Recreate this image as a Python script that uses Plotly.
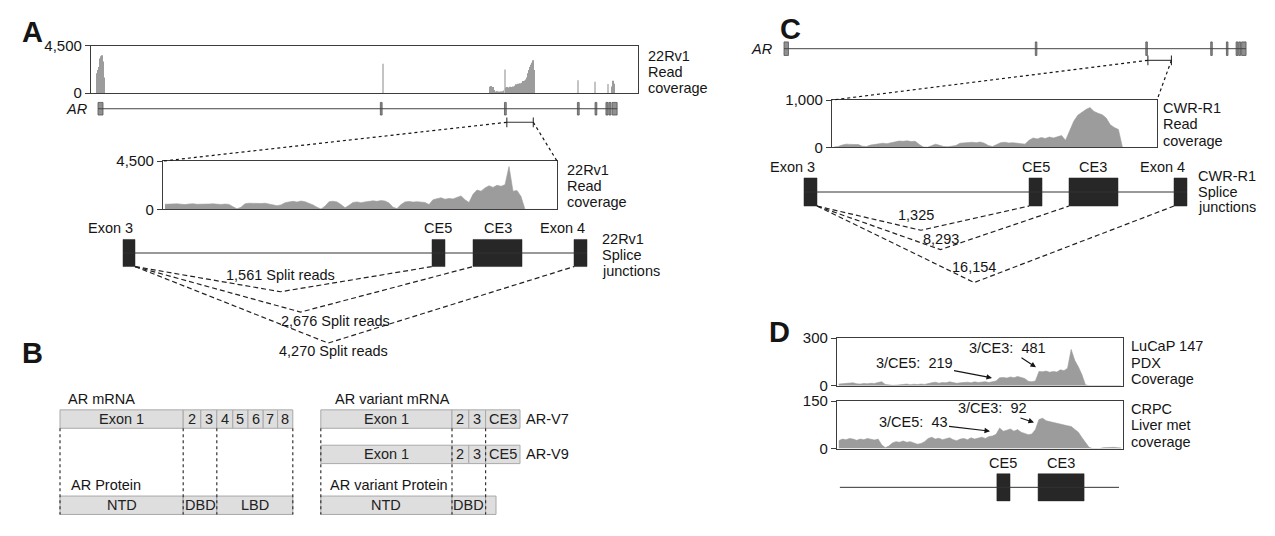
import numpy as np
import plotly.graph_objects as go

W, H = 1275, 536
FONT = "Liberation Sans, Arial, sans-serif"
TXT = "#151515"
COV = "#9c9c9c"
COV_THIN = "#c4c4c4"
BOX = "#3c3c3c"
EXON_DARK = "#272727"
EXON_GRAY = "#909090"
EXON_EDGE = "#555555"
BFILL = "#dedede"
BEDGE = "#a9a9a9"
FS = 14.5

# ====================== DATA ======================
# AR gene structure (kb from TSS)
AR_EXON_START = [0.0, 96.0, 138.2, 163.0, 169.0, 172.7, 173.7, 174.8]
AR_EXON_END = [1.7, 96.6, 138.8, 163.6, 169.6, 173.4, 174.4, 176.5]
ZOOM_REGION_KB = [139.0, 148.0]

# Panel A: 22Rv1 read coverage along AR (non-empty 0.34 kb bins)
A_GENE_COV_POS = [-0.34, 0.0, 0.34, 0.68, 1.02, 1.36, 1.70, 2.04, 96.9]
A_GENE_COV_VAL = [1900, 2200, 2500, 3300, 3500, 3600, 3000, 1500, 2800]
A_GENE_COV_BIN = 0.34
A_GENE_COV_INTRON3_START = 133.28
A_GENE_COV_INTRON3_VAL = [620, 680, 450, 600, 300, 150, 120, 180, 100, 150,
                          120, 160, 130, 180, 250, 2260, 520, 600, 480, 550,
                          620, 500, 580, 650, 520, 700, 850, 780, 900, 820,
                          950, 880, 1000, 1150, 1080, 1200, 1300, 1500, 1900, 2200,
                          2500, 2700, 2900, 3120, 2200]
A_GENE_COV_3END_POS = [163.2, 169.0, 173.4, 174.76, 175.1, 175.44]
A_GENE_COV_3END_VAL = [1240, 1090, 870, 650, 1180, 900]

# Panel A zoom: 22Rv1 coverage, intron 3 region (0.1 kb bins from region start)
A_ZOOM_BIN = 0.1
A_ZOOM_COV = [480, 500, 470, 520, 490, 450, 500, 530, 480, 510,
              470, 500, 520, 480, 460, 500, 470, 250, 60, 200,
              520, 580, 560, 600, 550, 580, 500, 380, 350, 420,
              620, 700, 750, 680, 780, 720, 600, 420, 200, 40,
              300, 720, 760, 700, 450, 150, 380, 650, 700, 620,
              700, 760, 800, 750, 820, 780, 600, 200, 80, 450,
              700, 740, 680, 720, 700, 650, 450, 900, 1000, 1080,
              950, 1020, 980, 1150, 1260, 900, 650, 1400, 1800, 1700,
              2000, 2200, 2050, 2250, 2150, 2300, 3990, 1700, 1750, 1200,
              0, 0, 0, 0, 0, 0, 0, 0, 0]
A_SPLICE_EXONS = ["Exon 3", "CE5", "CE3", "Exon 4"]
A_SPLICE_START = [-1.0, 6.725, 7.75, 10.275]
A_SPLICE_END = [-0.7, 7.05, 8.975, 10.6]
A_SPLIT_READS = [1561, 2676, 4270]          # Exon3 -> CE5, CE3, Exon4

# Panel C: CWR-R1 (0.125 kb bins)
C_ZOOM_BIN = 0.125
C_ZOOM_COV = [10, 20, 50, 70, 65, 70, 60, 25, 20, 50,
              60, 85, 90, 80, 95, 120, 135, 130, 140, 125,
              130, 60, 10, 5, 40, 70, 45, 20, 15, 20,
              40, 90, 100, 95, 110, 100, 115, 90, 40, 20,
              60, 100, 110, 95, 100, 90, 80, 70, 150, 200,
              180, 210, 190, 220, 200, 230, 250, 150, 350, 550,
              680, 750, 800, 840, 760, 720, 690, 620, 480, 420,
              380, 0, 0, 0, 0, 0, 0, 0, 0, 0]
C_SPLICE_EXONS = ["Exon 3", "CE5", "CE3", "Exon 4"]
C_SPLICE_START = [-0.862, 6.062, 7.292, 10.523]
C_SPLICE_END = [-0.462, 6.462, 8.8, 10.923]
C_SPLIT_READS = [1325, 8293, 16154]

# Panel D: LuCaP 147 PDX and CRPC liver met coverage (0.125 kb bins)
D_BIN = 0.125
D_PDX_COV = [10, 12, 10, 14, 18, 12, 10, 14, 12, 15,
             14, 20, 25, 8, 3, 2, 3, 5, 8, 10,
             6, 9, 7, 10, 8, 15, 18, 22, 16, 20,
             18, 24, 18, 15, 18, 20, 22, 18, 24, 20,
             22, 25, 20, 24, 30, 50, 52, 48, 55, 50,
             58, 52, 45, 28, 25, 30, 90, 88, 92, 85,
             90, 86, 100, 95, 110, 229, 160, 120, 70, 5,
             0, 0, 0, 0, 0, 0, 0, 0, 0, 0]
D_LIVER_COV = [25, 30, 28, 32, 30, 26, 30, 28, 32, 30,
               27, 30, 12, 3, 8, 18, 22, 20, 24, 20,
               22, 18, 14, 16, 22, 32, 36, 30, 33, 28,
               30, 34, 28, 25, 30, 32, 28, 34, 30, 33,
               36, 32, 38, 40, 45, 65, 55, 58, 62, 55,
               60, 52, 48, 44, 46, 60, 92, 96, 88, 85,
               84, 80, 78, 75, 72, 70, 60, 52, 35, 20,
               4, 0, 0, 0, 3, 4, 3, 4, 3, 2]
D_PDX_JUNCTIONS = {"3/CE5": 219, "3/CE3": 481}
D_LIVER_JUNCTIONS = {"3/CE5": 43, "3/CE3": 92}
D_LINE = [0.1, 9.86]
D_EXONS = ["CE5", "CE3"]
D_EXON_START = [5.59, 7.03]
D_EXON_END = [6.05, 8.64]

# Panel B schematic (relative segment lengths)
B_MRNA_LABELS = ["Exon 1", "2", "3", "4", "5", "6", "7", "8"]
B_MRNA_LEN = [7.7, 1.1, 1.0, 1.0, 0.95, 0.95, 0.9, 0.95]
B_PROT_LABELS = ["NTD", "DBD", "LBD"]
B_PROT_LEN = [7.7, 2.1, 4.75]
B_V7_LABELS = ["Exon 1", "2", "3", "CE3"]
B_V9_LABELS = ["Exon 1", "2", "3", "CE5"]
B_VAR_LEN = [8.2, 1.05, 1.05, 2.15]
B_VPROT_LABELS = ["NTD", "DBD", ""]
B_VPROT_LEN = [8.2, 2.1, 0.65]
B_VAR_OFFSET = 16.3

# ====================== FIGURE ======================
fig = go.Figure()
AX = {}


def add_axes(n, box, xr, yr, cov=None):
    px0, px1, py0, py1 = box
    AX[n] = (px0, px1, py0, py1, xr, yr)
    s = "" if n == 1 else str(n)
    xa = dict(domain=[px0 / W, px1 / W], range=xr, anchor="y" + s, showgrid=False,
              zeroline=False, showticklabels=False, ticks="", fixedrange=True)
    ya = dict(domain=[1 - py1 / H, 1 - py0 / H], range=yr, anchor="x" + s, showgrid=False,
              zeroline=False, fixedrange=True)
    if cov is None:
        xa["visible"] = False
        ya["visible"] = False
    else:
        xa.update(showline=True, mirror=True, linecolor=BOX, linewidth=1.3)
        ya.update(showline=True, mirror=True, linecolor=BOX, linewidth=1.3,
                  ticks="outside", ticklen=5, tickwidth=1.3, tickcolor=BOX,
                  tickvals=[0, cov], ticktext=["0", f"{cov:,}"],
                  tickfont=dict(size=15, color=TXT, family=FONT))
    fig.update_layout(**{"xaxis" + s: xa, "yaxis" + s: ya})


def refs(n):
    s = "" if n == 1 else str(n)
    return "x" + s, "y" + s


def to_px(n, x, y):
    px0, px1, py0, py1, xr, yr = AX[n]
    X = px0 + (x - xr[0]) / (xr[1] - xr[0]) * (px1 - px0)
    Y = py1 - (y - yr[0]) / (yr[1] - yr[0]) * (py1 - py0)
    return X, Y


def txt(s, X, Y, size=FS, xanchor="left", bold=False):
    if bold:
        s = f"<b>{s}</b>"
    fig.add_annotation(text=s, x=X / W, y=1 - Y / H, xref="paper", yref="paper",
                       xanchor=xanchor, yanchor="middle", showarrow=False,
                       font=dict(size=size, color=TXT, family=FONT))


def pline(X0, Y0, X1, Y1, dash="dot", width=1.2):
    fig.add_shape(type="line", xref="paper", yref="paper", x0=X0 / W, y0=1 - Y0 / H,
                  x1=X1 / W, y1=1 - Y1 / H, line=dict(color=TXT, width=width, dash=dash))


def coverage(n, start, step, vals):
    xs = start + step * (np.arange(len(vals)) + 0.5)
    xr, yr = refs(n)
    fig.add_trace(go.Scatter(x=xs, y=vals, mode="lines", fill="tozeroy", fillcolor=COV,
                             line=dict(color=COV, width=0.6), xaxis=xr, yaxis=yr,
                             hoverinfo="skip", showlegend=False))


def exons(n, starts, ends, height, color, edge, ew=0.8):
    xr, yr = refs(n)
    fig.add_trace(go.Bar(orientation="h", base=starts,
                         x=[e - s for s, e in zip(starts, ends)], y=[0] * len(starts),
                         width=height, marker=dict(color=color, line=dict(color=edge, width=ew)),
                         xaxis=xr, yaxis=yr, hoverinfo="skip", showlegend=False))


def hline(n, x0, x1, y=0, color="#444", width=1.0):
    xr, yr = refs(n)
    fig.add_trace(go.Scatter(x=[x0, x1], y=[y, y], mode="lines", line=dict(color=color, width=width),
                             xaxis=xr, yaxis=yr, hoverinfo="skip", showlegend=False))


def bracket(n, y):
    xr, yr = refs(n)
    fig.add_trace(go.Scatter(x=ZOOM_REGION_KB, y=[y, y], mode="lines+markers",
                             line=dict(color="#333", width=1.1),
                             marker=dict(symbol="line-ns", size=7, line=dict(color="#333", width=1.1)),
                             xaxis=xr, yaxis=yr, hoverinfo="skip", showlegend=False))


# ---------- axes ----------
add_axes(1, (91, 638, 38, 87), [-2.38, 183.6], [0, 4500], cov=4500)
add_axes(2, (91, 638, 90, 125), [-2.38, 183.6], [-22, 13])
add_axes(3, (163, 557, 157, 207), [0, 9.85], [0, 4500], cov=4500)
add_axes(4, (100, 640, 232, 362), [-1.575, 11.925], [-110, 20])
add_axes(5, (770, 1260, 28, 60), [-5.35, 181.83], [-19, 13])
add_axes(6, (832, 1157, 94, 143), [0, 10], [0, 1000], cov=1000)
add_axes(7, (770, 1200, 168, 292), [-1.9077, 11.323], [-103, 21])
add_axes(8, (837, 1123, 340, 389), [0, 10], [0, 300], cov=300)
add_axes(9, (837, 1123, 405, 454), [0, 10], [0, 150], cov=150)
add_axes(10, (837, 1123, 470, 515), [0, 10], [-21, 24])
add_axes(11, (40, 560, 380, 530), [-1.25, 31.25], [150, 0])

# ---------- Panel A ----------
gene_pos = list(A_GENE_COV_POS) + list(A_GENE_COV_INTRON3_START + A_GENE_COV_BIN *
                                       np.arange(len(A_GENE_COV_INTRON3_VAL))) + A_GENE_COV_3END_POS
gene_val = A_GENE_COV_VAL + A_GENE_COV_INTRON3_VAL + A_GENE_COV_3END_VAL
# isolated single-bin spikes render lighter (anti-aliased) in the original
gp = np.array(gene_pos)
bar_cols = []
for i, p in enumerate(gp):
    nb = np.sum(np.abs(gp - p) < A_GENE_COV_BIN * 1.5) - 1
    tall_iso = nb == 0 or (gene_val[i] > 1.8 * max(gene_val[max(i - 1, 0)], gene_val[min(i + 1, len(gp) - 1)]))
    bar_cols.append(COV_THIN if tall_iso else COV)
fig.add_trace(go.Bar(x=gene_pos, y=gene_val, width=A_GENE_COV_BIN,
                     marker=dict(color=bar_cols, line=dict(width=0)),
                     xaxis="x", yaxis="y", hoverinfo="skip", showlegend=False))

for n in (2, 5):
    hline(n, AR_EXON_START[0], AR_EXON_END[-1], color="#444", width=1.0)
exons(2, AR_EXON_START, AR_EXON_END, 13, EXON_GRAY, EXON_EDGE)
bracket(2, -14)
exons(5, AR_EXON_START, AR_EXON_END, 14, EXON_GRAY, EXON_EDGE)
bracket(5, -12)

coverage(3, 0.0, A_ZOOM_BIN, A_ZOOM_COV)
coverage(6, 0.0, C_ZOOM_BIN, C_ZOOM_COV)
coverage(8, 0.0, D_BIN, D_PDX_COV)
coverage(9, 0.0, D_BIN, D_LIVER_COV)

# zoom connectors
for gn, cn in ((2, 3), (5, 6)):
    by = -14 if gn == 2 else -12
    bl = to_px(gn, ZOOM_REGION_KB[0], by)
    br = to_px(gn, ZOOM_REGION_KB[1], by)
    px0, px1, py0, py1, _, _ = AX[cn]
    pline(bl[0], bl[1], px0, py0)
    pline(br[0], br[1], px1, py0)

# splice diagrams
JUNCTION_APEX_FRAC = [0.49, 0.49, 0.44]
A_LABEL_OFF = [(0, -17), (35, 9), (5, 8)]
C_LABEL_OFF = [(-5, -16), (1, -11), (0, -16)]
EXON_LABEL_ANCHOR = ["right", "center", "center", "right"]


def splice(n, names, starts, ends, h, counts, fmt, offs, depths):
    hline(n, starts[0], ends[-1], color="#333", width=1.0)
    exons(n, starts, ends, h, EXON_DARK, EXON_DARK, 0.5)
    xr, yr = refs(n)
    for i, nm in enumerate(names):
        anc = EXON_LABEL_ANCHOR[i]
        xx = ends[i] if anc == "right" else (starts[i] + ends[i]) / 2
        X, Y = to_px(n, xx, h / 2 + 11.5)
        txt(nm, X, Y, xanchor=anc)
    donor = ends[0]
    bottom = -h / 2
    for k, cnt in enumerate(counts):
        acc = starts[k + 1]
        ax_ = donor + JUNCTION_APEX_FRAC[k] * (acc - donor)
        ay_ = bottom - depths[k]
        fig.add_trace(go.Scatter(x=[donor, ax_, acc], y=[bottom, ay_, bottom], mode="lines",
                                 line=dict(color="#222", width=1.2, dash="5px,3px"),
                                 xaxis=xr, yaxis=yr, hoverinfo="skip", showlegend=False))
        X, Y = to_px(n, ax_, ay_)
        txt(fmt(cnt), X + offs[k][0], Y + offs[k][1], xanchor="center")


splice(4, A_SPLICE_EXONS, A_SPLICE_START, A_SPLICE_END, 28, A_SPLIT_READS,
       lambda c: f"{c:,} Split reads", A_LABEL_OFF, [26, 47, 79])
splice(7, C_SPLICE_EXONS, C_SPLICE_START, C_SPLICE_END, 29, C_SPLIT_READS,
       lambda c: f"{c:,}", C_LABEL_OFF, [25, 45, 79])

# Panel D gene diagram
hline(10, D_LINE[0], D_LINE[1], color="#333", width=1.0)
exons(10, D_EXON_START, D_EXON_END, 28, EXON_DARK, EXON_DARK, 0.5)
for nm, s, e in zip(D_EXONS, D_EXON_START, D_EXON_END):
    X, Y = to_px(10, (s + e) / 2, 14 + 11)
    txt(nm, X, Y, xanchor="center")

# Panel D annotations with arrows (head px, text-centre offset px)
D_ARROWS = [(D_PDX_JUNCTIONS, "3/CE5", (992, 381), (-78, -15)),
            (D_PDX_JUNCTIONS, "3/CE3", (1036, 370), (-29, -19)),
            (D_LIVER_JUNCTIONS, "3/CE5", (990, 436), (-77, -9)),
            (D_LIVER_JUNCTIONS, "3/CE3", (1034, 427), (-42, -14))]
for dct, key, (hx, hy), (dx, dy) in D_ARROWS:
    fig.add_annotation(x=hx / W, y=1 - hy / H, xref="paper", yref="paper", ax=dx, ay=dy,
                       text=f"{key}:\u00a0 {dct[key]}", showarrow=True, arrowhead=2, arrowsize=1,
                       arrowwidth=1.1, arrowcolor=TXT, standoff=0,
                       font=dict(size=FS, color=TXT, family=FONT))

# ---------- Panel B ----------
B_ROW_Y = {"mrna": 43.5, "v9": 80.0, "prot": 132.5}
B_ROW_H = 19


def brow(labels, lens, offset, y):
    starts = offset + np.concatenate([[0], np.cumsum(lens)[:-1]])
    fig.add_trace(go.Bar(orientation="h", base=starts, x=lens, y=[y] * len(lens), width=B_ROW_H,
                         marker=dict(color=BFILL, line=dict(color=BEDGE, width=1)),
                         xaxis="x11", yaxis="y11", hoverinfo="skip", showlegend=False))
    for lab, s, l in zip(labels, starts, lens):
        if lab:
            fig.add_annotation(text=lab, x=s + l / 2, y=y, xref="x11", yref="y11", showarrow=False,
                               font=dict(size=FS, color="#222", family=FONT))
    return starts


brow(B_MRNA_LABELS, B_MRNA_LEN, 0.0, B_ROW_Y["mrna"])
ps = brow(B_PROT_LABELS, B_PROT_LEN, 0.0, B_ROW_Y["prot"])
brow(B_V7_LABELS, B_VAR_LEN, B_VAR_OFFSET, B_ROW_Y["mrna"])
brow(B_V9_LABELS, B_VAR_LEN, B_VAR_OFFSET, B_ROW_Y["v9"])
vps = brow(B_VPROT_LABELS, B_VPROT_LEN, B_VAR_OFFSET, B_ROW_Y["prot"])

bounds = sorted(set(list(ps) + [ps[-1] + B_PROT_LEN[-1]] + list(vps[:2]) + [vps[1] + B_VPROT_LEN[1]]))
y_top = B_ROW_Y["mrna"] + B_ROW_H / 2
y_bot = B_ROW_Y["prot"] + B_ROW_H / 2
for b in bounds:
    fig.add_trace(go.Scatter(x=[b, b], y=[y_top, y_bot], mode="lines",
                             line=dict(color="#333", width=1.2, dash="dot"),
                             xaxis="x11", yaxis="y11", hoverinfo="skip", showlegend=False))

txt("AR mRNA", 66, 403)
txt("AR Protein", 69, 492)
txt("AR variant mRNA", 333, 403)
txt("AR variant Protein", 328, 492)
vx, _ = to_px(11, B_VAR_OFFSET + sum(B_VAR_LEN), 0)
txt("AR-V7", vx + 4, 423.5)
txt("AR-V9", vx + 4, 460)

# ---------- text labels ----------
txt("A", 32, 24, size=29, xanchor="center", bold=True)
txt("B", 32, 355, size=29, xanchor="center", bold=True)
txt("C", 790, 21, size=29, xanchor="center", bold=True)
txt("D", 779, 334, size=29, xanchor="center", bold=True)

txt("<i>AR</i>", 90, 103, xanchor="right")
txt("<i>AR</i>", 775, 41, xanchor="right")

for i, s in enumerate(["22Rv1", "Read", "coverage"]):
    txt(s, 646, [49, 65.5, 82][i])
for i, s in enumerate(["22Rv1", "Read", "coverage"]):
    txt(s, 565, [166, 182.5, 199][i])
for i, s in enumerate(["22Rv1", "Splice", "junctions"]):
    txt(s, 600, [238, 254.5, 271][i])
for i, s in enumerate(["CWR-R1", "Read", "coverage"]):
    txt(s, 1161, [102, 119, 136][i])
for i, s in enumerate(["CWR-R1", "Splice", "junctions"]):
    txt(s, 1196, [172, 189, 205][i])
for i, s in enumerate(["LuCaP 147", "PDX", "Coverage"]):
    txt(s, 1129, [348, 365.5, 382][i])
for i, s in enumerate(["CRPC", "Liver met", "coverage"]):
    txt(s, 1129, [413, 430, 447][i])

fig.update_layout(width=W, height=H, autosize=False, margin=dict(l=0, r=0, t=0, b=0),
                  paper_bgcolor="white", plot_bgcolor="rgba(0,0,0,0)", barmode="overlay",
                  showlegend=False, font=dict(family=FONT, color=TXT, size=FS))

fig.write_html("out.html", config={"displayModeBar": False},
               post_script="document.body.style.margin='0';document.body.style.overflow='hidden';")
